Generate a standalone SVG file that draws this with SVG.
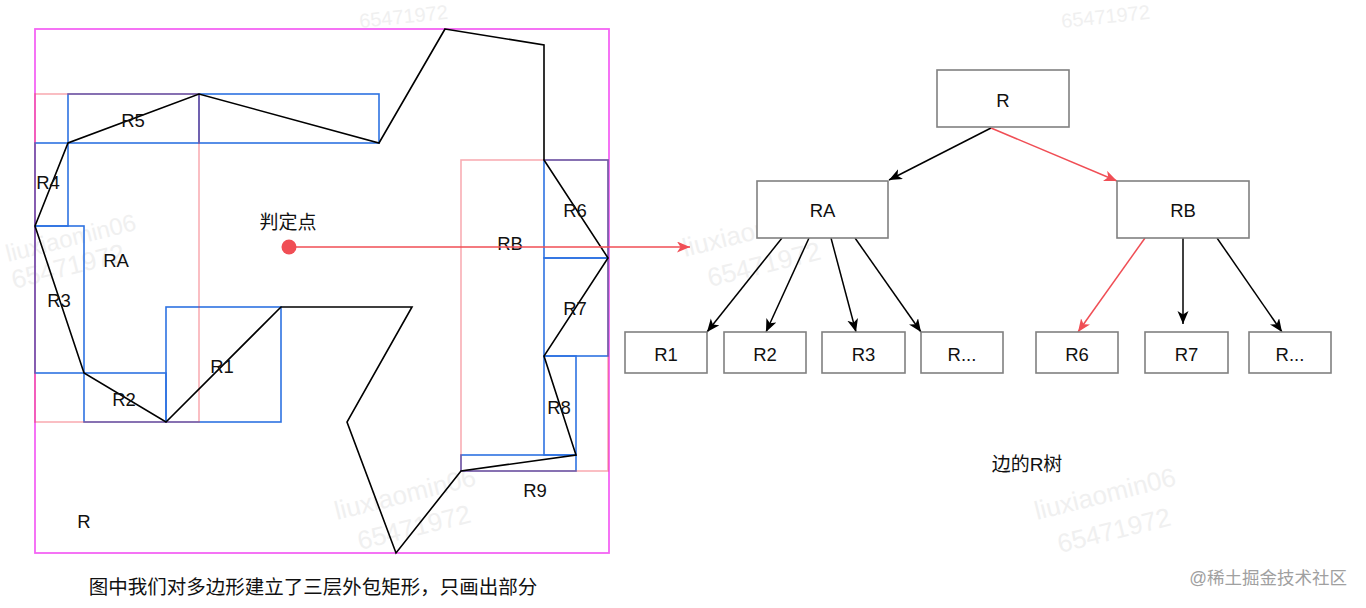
<svg xmlns="http://www.w3.org/2000/svg" width="1366" height="608" viewBox="0 0 1366 608">
<style>
.lbl{font-family:"Liberation Sans",Arial,sans-serif;font-size:18.5px;fill:#111;text-anchor:middle}
.cjk{font-family:"Liberation Sans","Noto Sans CJK SC",sans-serif;font-size:19px;fill:#111;text-anchor:middle}
.wm{font-family:"Liberation Sans","DejaVu Sans",sans-serif;font-size:26px;fill:#f0f0f0}
.blue{fill:none;stroke:#2D72E2;stroke-width:1.6}
.pink{fill:none;stroke:#EE3344;stroke-opacity:0.4;stroke-width:1.6}
.node rect{fill:#fff;stroke:#808080;stroke-width:1.6}
.edge{fill:none;stroke:#000;stroke-width:1.5}
.edge.red{stroke:#F04E55}
</style>
<defs>
<marker id="ab" markerUnits="userSpaceOnUse" markerWidth="14" markerHeight="12" refX="13" refY="5.5" orient="auto">
<path d="M0,0 L13,5.5 L0,11 L3.5,5.5 Z" fill="#000"/>
</marker>
<marker id="ar" markerUnits="userSpaceOnUse" markerWidth="14" markerHeight="12" refX="13" refY="5.5" orient="auto">
<path d="M0,0 L13,5.5 L0,11 L3.5,5.5 Z" fill="#F04E55"/>
</marker>
</defs>
<rect width="1366" height="608" fill="#fff"/>

<!-- watermarks -->
<g id="watermarks">
<text class="wm" style="font-size:20px" transform="translate(360,28) rotate(-6)">65471972</text>
<text class="wm" style="font-size:20px" transform="translate(1062,28) rotate(-6)">65471972</text>
<text class="wm" style="font-size:24px" transform="translate(8,262) rotate(-14)">liuxiaomin06</text>
<text class="wm" transform="translate(14,289) rotate(-14)">65471972</text>
<text class="wm" transform="translate(685,257) rotate(-14)">liuxiaomin06</text>
<text class="wm" transform="translate(710,287) rotate(-14)">65471972</text>
<text class="wm" transform="translate(337,520) rotate(-14)">liuxiaomin06</text>
<text class="wm" transform="translate(360,550) rotate(-14)">65471972</text>
<text class="wm" transform="translate(1037,520) rotate(-14)">liuxiaomin06</text>
<text class="wm" transform="translate(1060,553) rotate(-14)">65471972</text>
</g>

<!-- left figure -->
<g id="polygon-figure">
<rect id="R-outer" x="35" y="29" width="574" height="524" fill="none" stroke="#F464F4" stroke-width="1.8"/>
<g id="leaf-boxes">
<rect class="blue" x="68" y="94" width="131" height="49"/>
<rect class="blue" x="199" y="94" width="180" height="49"/>
<rect class="blue" x="35" y="143" width="33" height="83"/>
<rect class="blue" x="35" y="226" width="49" height="147"/>
<rect class="blue" x="84" y="373" width="82" height="49"/>
<rect class="blue" x="166" y="307" width="115" height="115"/>
<rect class="blue" x="544" y="160" width="64" height="98"/>
<rect class="blue" x="544" y="258" width="64" height="98"/>
<rect class="blue" x="544" y="356" width="32" height="99"/>
<rect class="blue" x="461" y="455" width="115" height="16"/>
</g>
<g id="mid-boxes">
<rect class="pink" x="35" y="94" width="164" height="328"/>
<rect class="pink" x="461" y="160" width="147" height="311"/>
</g>
<polygon id="poly" points="445,29 544,45 544,160 608,258 544,356 576,455 461,471 396,553 347,422 412,307 281,307 166,422 84,373 35,226 68,143 199,94 379,143" fill="none" stroke="#000" stroke-width="1.6" stroke-linejoin="miter"/>
<text class="lbl" x="133" y="127">R5</text>
<text class="lbl" x="48" y="189">R4</text>
<text class="lbl" x="59" y="307">R3</text>
<text class="lbl" x="116" y="267">RA</text>
<text class="lbl" x="222" y="373">R1</text>
<text class="lbl" x="124" y="406">R2</text>
<text class="lbl" x="575" y="217">R6</text>
<text class="lbl" x="510" y="250">RB</text>
<text class="lbl" x="575" y="315">R7</text>
<text class="lbl" x="559" y="414">R8</text>
<text class="lbl" x="535" y="497">R9</text>
<text class="lbl" x="84" y="528">R</text>
<text class="cjk" x="288" y="229">判定点</text>
<circle cx="289" cy="247" r="7.5" fill="#F04E55"/>
<line x1="289" y1="247" x2="690" y2="247" stroke="#F04E55" stroke-width="1.5" marker-end="url(#ar)"/>
</g>

<!-- tree -->
<g id="connectors">
<line class="edge" x1="991" y1="128" x2="889" y2="180" marker-end="url(#ab)"/>
<line class="edge red" x1="991" y1="128" x2="1117" y2="181" marker-end="url(#ar)"/>
<line class="edge" x1="782" y1="238" x2="707" y2="332" marker-end="url(#ab)"/>
<line class="edge" x1="809" y1="238" x2="766" y2="332" marker-end="url(#ab)"/>
<line class="edge" x1="831" y1="238" x2="856" y2="332" marker-end="url(#ab)"/>
<line class="edge" x1="855" y1="238" x2="921" y2="332" marker-end="url(#ab)"/>
<line class="edge red" x1="1145" y1="238" x2="1078" y2="332" marker-end="url(#ar)"/>
<line class="edge" x1="1183" y1="238" x2="1183" y2="324" marker-end="url(#ab)"/>
<line class="edge" x1="1217" y1="238" x2="1282" y2="332" marker-end="url(#ab)"/>
</g>
<g id="node-R" class="node"><rect x="937" y="70" width="132" height="57"/><text class="lbl" x="1003" y="107">R</text></g>
<g id="node-RA" class="node"><rect x="757" y="181" width="131" height="57"/><text class="lbl" x="822.5" y="217">RA</text></g>
<g id="node-RB" class="node"><rect x="1117" y="181" width="132" height="57"/><text class="lbl" x="1183" y="217">RB</text></g>
<g id="node-R1" class="node"><rect x="625" y="332" width="82" height="41"/><text class="lbl" x="666" y="361">R1</text></g>
<g id="node-R2" class="node"><rect x="724" y="332" width="82" height="41"/><text class="lbl" x="765" y="361">R2</text></g>
<g id="node-R3" class="node"><rect x="822" y="332" width="83" height="41"/><text class="lbl" x="863.5" y="361">R3</text></g>
<g id="node-Ra" class="node"><rect x="921" y="332" width="82" height="41"/><text class="lbl" x="962" y="361">R...</text></g>
<g id="node-R6" class="node"><rect x="1036" y="332" width="82" height="41"/><text class="lbl" x="1077" y="361">R6</text></g>
<g id="node-R7" class="node"><rect x="1145" y="332" width="83" height="41"/><text class="lbl" x="1186.5" y="361">R7</text></g>
<g id="node-Rb" class="node"><rect x="1249" y="332" width="82" height="41"/><text class="lbl" x="1290" y="361">R...</text></g>

<text class="cjk" x="1027" y="471">边的R树</text>
<text class="cjk" style="font-size:19.5px" x="313" y="594">图中我们对多边形建立了三层外包矩形，只画出部分</text>
<text x="1347" y="584" text-anchor="end" style="font-family:'Liberation Sans','Noto Sans CJK SC',sans-serif;font-size:17.5px;fill:#a0a0a0">@稀土掘金技术社区</text>
</svg>
